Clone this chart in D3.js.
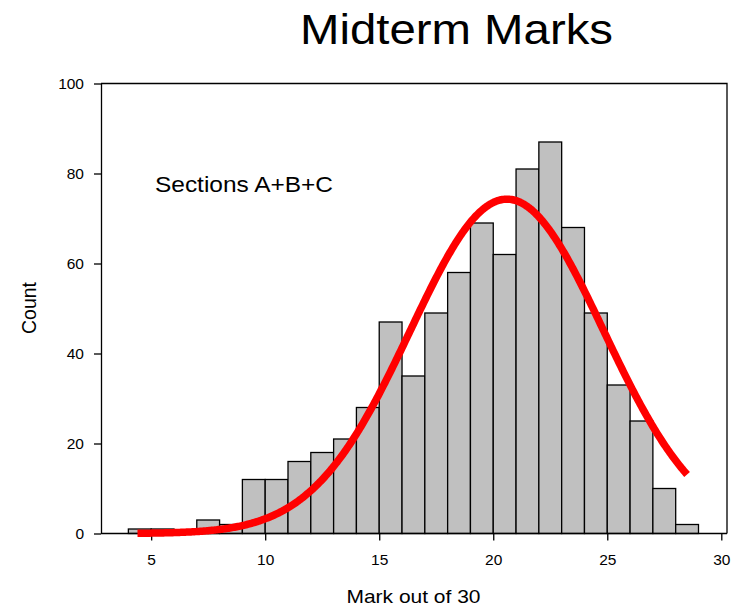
<!DOCTYPE html>
<html>
<head>
<meta charset="utf-8">
<script src="https://cdn.jsdelivr.net/npm/d3@7"></script>
<style>
  html, body { margin: 0; padding: 0; background: #fff; }
  svg { display: block; font-family: "Liberation Sans", Arial, Helvetica, sans-serif; }
</style>
</head>
<body>
<svg id="chart" width="741" height="607"></svg>
<script>
// Histogram of midterm marks: bins are one mark wide, starting at binStarts[i]
const binStarts = [4, 5, 6, 7, 8, 9, 10, 11, 12, 13, 14, 15, 16, 17, 18, 19, 20, 21, 22, 23, 24, 25, 26, 27, 28];
const counts    = [1, 1, 0, 3, 2, 12, 12, 16, 18, 21, 28, 47, 35, 49, 58, 69, 62, 81, 87, 68, 49, 33, 25, 10, 2];

// Gaussian fitted to the histogram (peak height, centre, spread) and the span it is drawn over
const fitPeak = 74.3;
const fitMean = 20.6;
const fitSd = 4.24;
const fitFrom = 4.4;
const fitTo = 28.5;

const xTicks = [5, 10, 15, 20, 25, 30];
const yTicks = [0, 20, 40, 60, 80, 100];

const svg = d3.select("#chart");

const x = d3.scaleLinear().domain([2.8, 30.25]).range([101, 727]);
const y = d3.scaleLinear().domain([0, 100]).range([533.5, 83.5]);

// Bars
svg.append("g")
  .selectAll("rect")
  .data(binStarts.map((b, i) => ({ b, c: counts[i] })).filter(d => d.c > 0))
  .join("rect")
    .attr("x", d => x(d.b))
    .attr("y", d => y(d.c))
    .attr("width", d => x(d.b + 1) - x(d.b))
    .attr("height", d => y(0) - y(d.c))
    .attr("fill", "#c0c0c0")
    .attr("stroke", "#000")
    .attr("stroke-width", 1.3);

// Plot frame (top and right edges)
svg.append("path")
  .attr("d", `M${x.range()[0]},${y(100)}H${x.range()[1]}V${y(0)}`)
  .attr("fill", "none")
  .attr("stroke", "#000")
  .attr("stroke-width", 1.3);

// Axes
const xAxis = d3.axisBottom(x).tickValues(xTicks).tickSize(7).tickSizeOuter(0).tickPadding(13.5);
const yAxis = d3.axisLeft(y).tickValues(yTicks).tickSize(7).tickSizeOuter(0).tickPadding(10);

const gx = svg.append("g").attr("transform", `translate(0,${y(0)})`).call(xAxis);
const gy = svg.append("g").attr("transform", `translate(${x.range()[0]},0)`).call(yAxis);

for (const g of [gx, gy]) {
  g.select(".domain").attr("stroke", "#000").attr("stroke-width", 1.3);
  g.selectAll(".tick line").attr("stroke", "#000").attr("stroke-width", 1.3);
  g.selectAll(".tick text")
    .attr("fill", "#000")
    .style("font-family", "'Liberation Sans', Arial, sans-serif")
    .style("font-size", "15.5px");
}
// extend the x-axis line across the whole frame
gx.select(".domain").attr("d", `M${x.range()[0]},0H${x.range()[1]}`);

// Fitted normal curve
const curvePts = d3.range(fitFrom, fitTo + 1e-9, 0.05)
  .map(v => [v, fitPeak * Math.exp(-((v - fitMean) ** 2) / (2 * fitSd * fitSd))]);

svg.append("path")
  .datum(curvePts)
  .attr("fill", "none")
  .attr("stroke", "#ff0000")
  .attr("stroke-width", 7.5)
  .attr("stroke-linejoin", "round")
  .attr("d", d3.line().x(d => x(d[0])).y(d => y(d[1])));

// Texts
svg.append("text")
  .attr("x", 300).attr("y", 44)
  .attr("textLength", 313).attr("lengthAdjust", "spacingAndGlyphs")
  .style("font-size", "42px")
  .text("Midterm Marks");

svg.append("text")
  .attr("x", 155).attr("y", 192)
  .attr("textLength", 178).attr("lengthAdjust", "spacingAndGlyphs")
  .style("font-size", "22px")
  .text("Sections A+B+C");

svg.append("text")
  .attr("x", 346.5).attr("y", 603)
  .attr("textLength", 134).attr("lengthAdjust", "spacingAndGlyphs")
  .style("font-size", "19px")
  .text("Mark out of 30");

svg.append("text")
  .attr("transform", "translate(36,308) rotate(-90)")
  .attr("text-anchor", "middle")
  .style("font-size", "19.5px")
  .text("Count");
</script>
</body>
</html>
